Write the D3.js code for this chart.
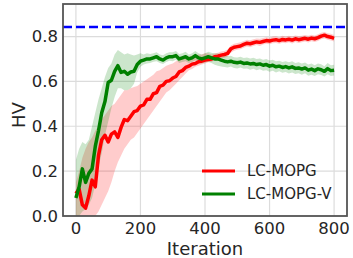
<!DOCTYPE html>
<html>
<head>
<meta charset="utf-8">
<script src="https://cdn.jsdelivr.net/npm/d3@7.9.0/dist/d3.min.js"></script>
<style>
  body { margin: 0; background: #fff; }
  #chart svg { display: block; font-family: "DejaVu Sans", sans-serif; }
</style>
</head>
<body>
<div id="chart"></div>
<script>
// iteration sample points (every 10 iterations)
const iterations = [0, 10, 20, 30, 40, 50, 60, 70, 80, 90, 100, 110, 120, 130, 140, 150, 160, 170, 180, 190,
  200, 210, 220, 230, 240, 250, 260, 270, 280, 290, 300, 310, 320, 330, 340, 350, 360, 370, 380, 390,
  400, 410, 420, 430, 440, 450, 460, 470, 480, 490, 500, 510, 520, 530, 540, 550, 560, 570, 580, 590,
  600, 610, 620, 630, 640, 650, 660, 670, 680, 690, 700, 710, 720, 730, 740, 750, 760, 770, 780, 790, 800];

// LC-MOPG (red)
const mopgMean = [0.10, 0.12, 0.05, 0.035, 0.09, 0.16, 0.13, 0.27, 0.34, 0.36, 0.33, 0.365, 0.375, 0.35, 0.395, 0.43, 0.425, 0.445, 0.465, 0.47,
  0.49, 0.495, 0.52, 0.52, 0.545, 0.55, 0.578, 0.583, 0.60, 0.603, 0.615, 0.622, 0.642, 0.648, 0.662, 0.668, 0.677, 0.68, 0.688, 0.69,
  0.695, 0.698, 0.70, 0.71, 0.712, 0.717, 0.72, 0.725, 0.745, 0.752, 0.755, 0.758, 0.765, 0.77, 0.768, 0.772, 0.776, 0.774, 0.778, 0.782,
  0.78, 0.784, 0.786, 0.782, 0.787, 0.785, 0.788, 0.784, 0.79, 0.786, 0.789, 0.792, 0.788, 0.793, 0.79, 0.795, 0.802, 0.806, 0.80, 0.797, 0.792];
const mopgLow = [0, 0, 0, 0, 0, 0, 0, 0.02, 0.05, 0.08, 0.11, 0.15, 0.20, 0.24, 0.27, 0.30, 0.32, 0.34, 0.35, 0.37,
  0.39, 0.41, 0.43, 0.45, 0.47, 0.49, 0.51, 0.53, 0.55, 0.56, 0.575, 0.59, 0.605, 0.62, 0.635, 0.65, 0.655, 0.665, 0.67, 0.675,
  0.68, 0.685, 0.687, 0.695, 0.698, 0.702, 0.705, 0.71, 0.728, 0.737, 0.741, 0.743, 0.75, 0.756, 0.752, 0.758, 0.762, 0.758, 0.764, 0.768,
  0.766, 0.77, 0.771, 0.768, 0.772, 0.77, 0.774, 0.769, 0.776, 0.771, 0.775, 0.778, 0.773, 0.779, 0.776, 0.78, 0.788, 0.791, 0.786, 0.782, 0.778];
const mopgHigh = [0.15, 0.20, 0.26, 0.30, 0.33, 0.35, 0.38, 0.40, 0.43, 0.45, 0.47, 0.49, 0.50, 0.52, 0.54, 0.56, 0.56, 0.57, 0.575, 0.58,
  0.59, 0.60, 0.61, 0.62, 0.63, 0.645, 0.65, 0.66, 0.67, 0.675, 0.68, 0.69, 0.695, 0.70, 0.705, 0.71, 0.715, 0.715, 0.72, 0.72,
  0.725, 0.725, 0.72, 0.726, 0.728, 0.733, 0.736, 0.742, 0.76, 0.768, 0.771, 0.774, 0.78, 0.786, 0.783, 0.788, 0.791, 0.79, 0.793, 0.797,
  0.795, 0.8, 0.801, 0.797, 0.803, 0.8, 0.803, 0.8, 0.805, 0.802, 0.804, 0.807, 0.804, 0.808, 0.805, 0.81, 0.817, 0.82, 0.815, 0.812, 0.807];

// LC-MOPG-V (green)
const mopgvMean = [0.08, 0.13, 0.21, 0.15, 0.19, 0.21, 0.31, 0.38, 0.46, 0.51, 0.595, 0.605, 0.645, 0.67, 0.64, 0.645, 0.632, 0.642, 0.645, 0.675,
  0.69, 0.695, 0.70, 0.70, 0.705, 0.71, 0.70, 0.695, 0.705, 0.71, 0.71, 0.715, 0.70, 0.705, 0.71, 0.70, 0.705, 0.715, 0.705, 0.70,
  0.705, 0.71, 0.705, 0.70, 0.70, 0.695, 0.69, 0.687, 0.69, 0.685, 0.683, 0.686, 0.68, 0.682, 0.678, 0.68, 0.675, 0.678, 0.672, 0.675,
  0.668, 0.672, 0.665, 0.668, 0.662, 0.666, 0.66, 0.665, 0.658, 0.66, 0.655, 0.66, 0.65, 0.655, 0.648, 0.656, 0.652, 0.645, 0.657, 0.648, 0.65];
const mopgvLow = [0, 0, 0.02, 0.03, 0.05, 0.08, 0.14, 0.22, 0.28, 0.36, 0.42, 0.48, 0.53, 0.57, 0.57, 0.56, 0.56, 0.57, 0.59, 0.64,
  0.665, 0.675, 0.68, 0.682, 0.688, 0.69, 0.682, 0.678, 0.686, 0.692, 0.69, 0.696, 0.682, 0.686, 0.69, 0.682, 0.686, 0.694, 0.685, 0.68,
  0.684, 0.688, 0.682, 0.674, 0.67, 0.666, 0.664, 0.662, 0.666, 0.66, 0.658, 0.662, 0.656, 0.658, 0.652, 0.656, 0.65, 0.654, 0.648, 0.65,
  0.643, 0.648, 0.64, 0.645, 0.638, 0.642, 0.635, 0.64, 0.633, 0.636, 0.63, 0.636, 0.625, 0.63, 0.624, 0.632, 0.628, 0.622, 0.632, 0.624, 0.626];
const mopgvHigh = [0.25, 0.30, 0.33, 0.32, 0.34, 0.40, 0.46, 0.52, 0.57, 0.62, 0.66, 0.68, 0.72, 0.74, 0.73, 0.72, 0.725, 0.72, 0.715, 0.72,
  0.725, 0.72, 0.725, 0.722, 0.726, 0.73, 0.72, 0.716, 0.726, 0.73, 0.73, 0.736, 0.722, 0.726, 0.732, 0.72, 0.726, 0.736, 0.725, 0.72,
  0.726, 0.732, 0.728, 0.724, 0.726, 0.72, 0.716, 0.712, 0.714, 0.708, 0.706, 0.71, 0.704, 0.706, 0.702, 0.705, 0.7, 0.702, 0.696, 0.7,
  0.693, 0.696, 0.69, 0.692, 0.686, 0.69, 0.685, 0.69, 0.682, 0.685, 0.68, 0.684, 0.675, 0.68, 0.672, 0.68, 0.676, 0.668, 0.682, 0.672, 0.674];

const referenceHV = 0.843;
const xTicks = [0, 200, 400, 600, 800];
const yTicks = [0.0, 0.2, 0.4, 0.6, 0.8];
const seriesNames = ["LC-MOPG", "LC-MOPG-V"];
const seriesColors = ["#ff0000", "#008000"];

const width = 353, height = 258;
const margin = { top: 4, right: 6, bottom: 42, left: 63 };
const innerW = width - margin.left - margin.right;
const innerH = height - margin.top - margin.bottom;

const svg = d3.select("#chart").append("svg")
  .attr("width", width)
  .attr("height", height);

const g = svg.append("g").attr("transform", `translate(${margin.left},${margin.top})`);

const x = d3.scaleLinear().domain([-40, 840]).range([0, innerW]);
const y = d3.scaleLinear().domain([0, 0.945]).range([innerH, 0]);

// grid
g.append("g").selectAll("line").data(xTicks).join("line")
  .attr("x1", d => x(d)).attr("x2", d => x(d))
  .attr("y1", 0).attr("y2", innerH)
  .attr("stroke", "#dcdcdc").attr("stroke-width", 1.2);
g.append("g").selectAll("line").data(yTicks).join("line")
  .attr("x1", 0).attr("x2", innerW)
  .attr("y1", d => y(d)).attr("y2", d => y(d))
  .attr("stroke", "#dcdcdc").attr("stroke-width", 1.2);

g.append("clipPath").attr("id", "plotclip")
  .append("rect").attr("width", innerW).attr("height", innerH);
const plot = g.append("g").attr("clip-path", "url(#plotclip)");

const series = [
  { name: seriesNames[0], color: seriesColors[0], mean: mopgMean, lo: mopgLow, hi: mopgHigh },
  { name: seriesNames[1], color: seriesColors[1], mean: mopgvMean, lo: mopgvLow, hi: mopgvHigh }
];

const area = d3.area()
  .x((d, i) => x(iterations[i]))
  .y0(d => y(d[0]))
  .y1(d => y(d[1]));
const line = d3.line()
  .x((d, i) => x(iterations[i]))
  .y(d => y(d));

// bands first, then mean lines
series.forEach(s => {
  plot.append("path")
    .datum(s.lo.map((v, i) => [v, s.hi[i]]))
    .attr("d", area)
    .attr("fill", s.color)
    .attr("fill-opacity", 0.2);
});
series.forEach(s => {
  plot.append("path")
    .datum(s.mean)
    .attr("d", line)
    .attr("fill", "none")
    .attr("stroke", s.color)
    .attr("stroke-width", 3.5)
    .attr("stroke-linejoin", "round");
});

// reference line
plot.append("line")
  .attr("x1", 0).attr("x2", innerW)
  .attr("y1", y(referenceHV)).attr("y2", y(referenceHV))
  .attr("stroke", "#0000ff")
  .attr("stroke-width", 2.5)
  .attr("stroke-dasharray", "9,4");

// frame
g.append("rect")
  .attr("width", innerW).attr("height", innerH)
  .attr("fill", "none")
  .attr("stroke", "#555")
  .attr("stroke-width", 1.8);

// tick labels
g.append("g").selectAll("text").data(xTicks).join("text")
  .attr("x", d => x(d))
  .attr("y", innerH + 18)
  .attr("text-anchor", "middle")
  .attr("font-size", "16.5px")
  .attr("fill", "#262626")
  .text(d => d);
g.append("g").selectAll("text").data(yTicks).join("text")
  .attr("x", -5)
  .attr("y", d => y(d))
  .attr("dy", "0.36em")
  .attr("text-anchor", "end")
  .attr("font-size", "16.5px")
  .attr("fill", "#262626")
  .text(d => d.toFixed(1));

// axis titles
svg.append("text")
  .attr("x", margin.left + innerW / 2)
  .attr("y", 255)
  .attr("text-anchor", "middle")
  .attr("font-size", "18px")
  .attr("fill", "#262626")
  .text("Iteration");
svg.append("text")
  .attr("transform", `translate(25,115) rotate(-90)`)
  .attr("text-anchor", "middle")
  .attr("font-size", "18px")
  .attr("fill", "#262626")
  .text("HV");

// legend
const legend = svg.append("g")
  .selectAll("g")
  .data(series)
  .join("g")
  .attr("transform", (d, i) => `translate(202,${171 + i * 23})`);
legend.append("line")
  .attr("x1", 0).attr("x2", 33)
  .attr("stroke", d => d.color)
  .attr("stroke-width", 3);
legend.append("text")
  .attr("x", 45)
  .attr("dy", "0.36em")
  .attr("font-size", "15px")
  .attr("fill", "#262626")
  .text(d => d.name);
</script>
</body>
</html>
